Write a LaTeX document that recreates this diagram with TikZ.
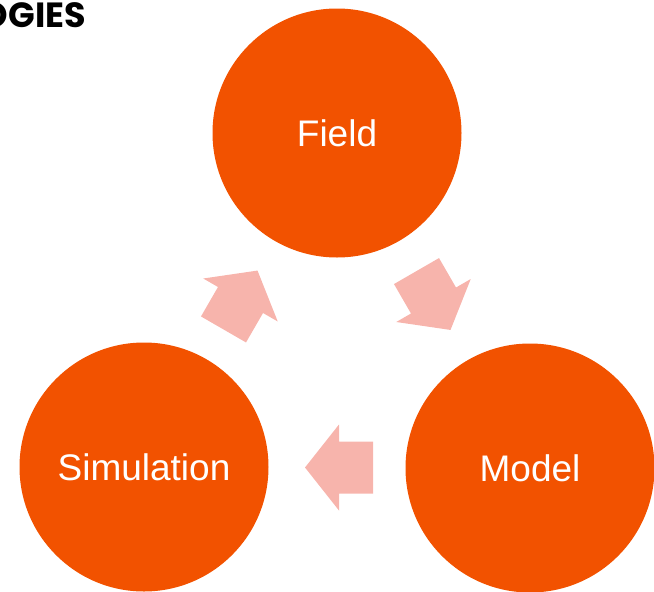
\documentclass[tikz,border=0pt]{standalone}
\usepackage{fontspec}
\setmainfont{Liberation Sans}
\newfontfamily\titlefont{Poppins}
\definecolor{circorange}{RGB}{242,82,0}
\definecolor{arrowpink}{RGB}{247,180,172}
\begin{document}
\begin{tikzpicture}[x=1pt,y=-1pt,
  circ/.style={circle,fill=circorange,draw=none,minimum size=249pt,inner sep=0pt,
    text=white,font=\fontsize{37}{40}\selectfont},
  blockarrow/.style={fill=arrowpink,draw=none}]
\clip (0,0) rectangle (654,592);
\useasboundingbox (0,0) rectangle (654,592);
\node[anchor=base east,font=\titlefont\bfseries\fontsize{35}{38}\selectfont,inner sep=0pt] (title) at (86,27) {OGIES};
\node[circ] (field) at (337,133) {Field};
\node[circ] (sim) at (144,467) {Simulation};
\node[circ] (model) at (530,468) {Model};
% block arrows (drawn in local frame pointing +x, centre at head base)
\path (field) -- (model) coordinate[pos=0.5] (fm);
\path (model) -- (sim) coordinate[pos=0.5] (ms);
\path (sim) -- (field) coordinate[pos=0.5] (sf);
\begin{scope}[shift={(fm)},rotate=-60]
  \fill[blockarrow] (34,0) -- (0,43) -- (0,26) -- (-34,26) -- (-34,-26) -- (0,-26) -- (0,-43) -- cycle;
\end{scope}
\begin{scope}[shift={(ms)},xshift=2pt,rotate=180]
  \fill[blockarrow] (34,0) -- (0,43) -- (0,26) -- (-34,26) -- (-34,-26) -- (0,-26) -- (0,-43) -- cycle;
\end{scope}
\begin{scope}[shift={(sf)},rotate=60]
  \fill[blockarrow] (34,0) -- (0,43) -- (0,26) -- (-34,26) -- (-34,-26) -- (0,-26) -- (0,-43) -- cycle;
\end{scope}
\end{tikzpicture}
\end{document}
